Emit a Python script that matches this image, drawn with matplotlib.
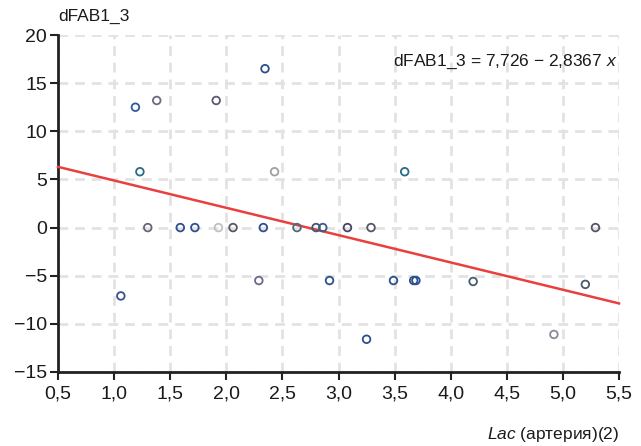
import matplotlib
matplotlib.use("Agg")
import matplotlib.pyplot as plt
import numpy as np
from matplotlib import font_manager

names = {f.name for f in font_manager.fontManager.ttflist}
FONT = "Liberation Sans Narrow" if "Liberation Sans Narrow" in names else "Liberation Sans"
plt.rcParams['font.family'] = [FONT, 'DejaVu Sans']
plt.rcParams['mathtext.fontset'] = 'custom'
plt.rcParams['mathtext.it'] = FONT + ':italic'
plt.rcParams['mathtext.rm'] = FONT

# data
x_vals = [1.06, 1.19, 1.23, 1.30, 1.38, 1.59, 1.72, 1.91, 1.93, 2.06, 2.29, 2.33,
          2.345, 2.43, 2.63, 2.80, 2.86, 2.92, 3.08, 3.25, 3.29, 3.49, 3.59,
          3.67, 3.69, 4.20, 4.92, 5.20, 5.29]
y_vals = [-7.1, 12.5, 5.8, 0.0, 13.2, 0.0, 0.0, 13.2, 0.0, 0.0, -5.5, 0.0,
          16.5, 5.8, 0.0, 0.0, 0.0, -5.5, 0.0, -11.6, 0.0, -5.5, 5.8,
          -5.5, -5.5, -5.6, -11.1, -5.9, 0.0]
intercept = 7.726
slope = -2.8367
x_ticks = [0.5, 1.0, 1.5, 2.0, 2.5, 3.0, 3.5, 4.0, 4.5, 5.0, 5.5]
y_ticks = [-15, -10, -5, 0, 5, 10, 15, 20]

edge_cols = ['#3a4f8c', '#2d5a9a', '#2a6a8a', '#666677', '#6a6a80', '#2d4f8f', '#2d4f8f',
             '#5a5a70', '#c0c0c0', '#555566', '#6a6a88', '#2d4f8f',
             '#2d4f8f', '#a0a0a0', '#4d6a7a', '#3a5a7a', '#3a5a8a', '#2d4f8f', '#444466',
             '#2d4f8f', '#555566', '#2d4f8f', '#2a6a8a',
             '#2d4f8f', '#2d4f8f', '#4a5a6a', '#8a8a99', '#4a5a6a', '#555566']

fig = plt.figure(figsize=(6.41, 4.46), dpi=100)
ax = fig.add_axes([58/641, 1-372/446, (619-58)/641, (372-35)/446])

ax.set_xlim(0.5, 5.5)
ax.set_ylim(-15, 20)
ax.set_xticks(x_ticks)
ax.set_yticks(y_ticks)
ax.set_xticklabels([f"{t:.1f}".replace('.', ',') for t in x_ticks])
ax.set_yticklabels([("\u2212" + str(-t)) if t < 0 else str(t) for t in y_ticks])

ax.grid(True, color='#e2e2e2', linestyle=(0, (3.5, 2.5)), linewidth=2.0)
ax.set_axisbelow(True)

xl = np.array([0.5, 5.5])
ax.plot(xl, intercept + slope * xl, color='#e8403f', linewidth=1.8, zorder=3, clip_on=False)

ax.scatter(x_vals, y_vals, s=30, facecolors='none', edgecolors=edge_cols,
           linewidths=1.3, zorder=4)

for s in ['top', 'right']:
    ax.spines[s].set_visible(False)
for s in ['left', 'bottom']:
    ax.spines[s].set_linewidth(2.0)
    ax.spines[s].set_color('#222222')

ax.tick_params(axis='both', direction='out', length=6, width=1.5, color='#222222',
               labelsize=14, labelcolor='#1a1a1a')
ax.tick_params(axis='y', pad=2)
ax.tick_params(axis='x', pad=4)

fig.text(58/641, 1-16/446, "dFAB1_3", fontsize=12.5, ha='left', va='center', color='#1a1a1a')
fig.text(617/641, 1-62/446, "dFAB1_3 = 7,726 \u2212 2,8367 $\\mathit{x}$", fontsize=12.5,
         ha='right', va='center', color='#1a1a1a')
fig.text(619/641, 1-434/446, r"$\mathit{Lac}$ (артерия)(2)", fontsize=12.5,
         ha='right', va='center', color='#1a1a1a')

fig.savefig("out.png", dpi=100, facecolor='white')
